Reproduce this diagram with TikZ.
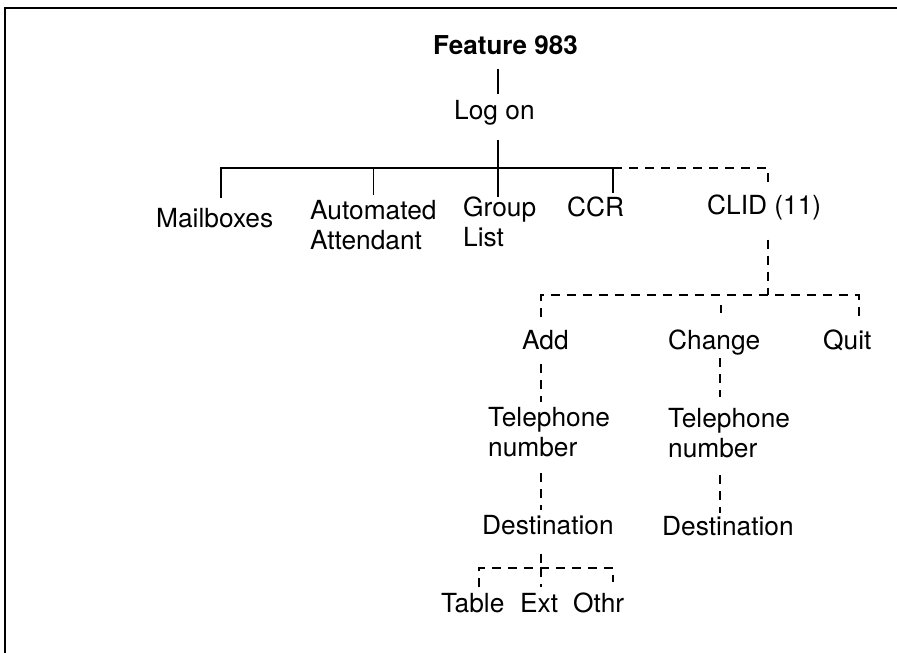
\documentclass[tikz,border=0pt]{standalone}
\usepackage{fontspec}
\setmainfont{TeX Gyre Heros}
\begin{document}
\begin{tikzpicture}[x=1pt,y=-1pt,
  lbl/.style={anchor=north west,inner sep=0pt,align=left,font=\fontsize{26.3}{30}\selectfont},
  tree/.style={line width=1.2pt},
  dtree/.style={line width=1.1pt,dash pattern=on 9pt off 7pt}]
\useasboundingbox (0,0) rectangle (897,653);
\draw[line width=1.5pt](5,653)--(5,8)--(897,8);
\node[lbl,font=\fontsize{26}{30}\selectfont\bfseries] (feat) at (433,35) {Feature 983};
\node[lbl] (logon) at (454,100) {Log on};
\node[lbl] (mail) at (156,208) {Mailboxes};
\node[lbl] (auto) at (310,200) {Automated\\Attendant};
\node[lbl] (group) at (463,197) {Group\\List};
\node[lbl] (ccr) at (567,197) {CCR};
\node[lbl] (clid) at (707,195) {CLID (11)};
\node[lbl] (add) at (522,330) {Add};
\node[lbl] (change) at (668,330) {Change};
\node[lbl] (quit) at (823,330) {Quit};
\node[lbl] (telA) at (488,407) {Telephone\\number};
\node[lbl] (telC) at (668,408) {Telephone\\number};
\node[lbl] (destA) at (482,515) {Destination};
\node[lbl] (destC) at (662,516) {Destination};
\node[lbl] (table) at (441,593) {Table};
\node[lbl] (ext) at (520,593) {Ext};
\node[lbl] (othr) at (573,593) {Othr};
\coordinate (J1) at (498,168);
\coordinate (bL) at (221,168);
\coordinate (bC) at (613,168);
\coordinate (bR) at (768,168);
\coordinate (J2) at (768,295);
\coordinate (cL) at (541,295);
\coordinate (cM) at (721,295);
\coordinate (cR) at (859,295);
\coordinate (J3) at (541,568);
\coordinate (dL) at (479,568);
\coordinate (dR) at (613,568);
\coordinate (cX) at (720,295);
\draw[tree,shorten <=14pt,shorten >=6pt](feat.south-|J1)--(logon.north-|J1);
\draw[tree,shorten <=15pt](logon.south-|J1)--(J1);
\draw[tree,shorten <=10pt,shorten >=4pt](mail.north-|bL)--(bL)--(bC)--(ccr.north-|bC);
\draw[tree,shorten >=5pt](J1-|auto.north)--(auto.north);
\draw[tree](J1)--(group.north-|J1);
\draw[dtree,shorten >=12pt](bC)--(bR)--(clid.north-|bR);
\draw[dtree,shorten <=19pt](clid.south-|J2)--(J2);
\draw[dtree,shorten <=13pt,shorten >=12pt](add.north-|cL)--(cL)--(cR)--(quit.north-|cR);
\draw[dtree,shorten <=10pt,shorten >=17pt](cM)--(change.north-|cM);
\draw[dtree,shorten <=14pt,shorten >=5pt](add.south-|cL)--(telA.north-|cL);
\draw[dtree,shorten <=16pt,shorten >=5pt](telA.south-|cL)--(destA.north-|cL);
\draw[dtree,shorten <=19pt](destA.south-|J3)--(J3);
\draw[dtree,shorten <=6pt,shorten >=11pt](table.north-|dL)--(dL)--(dR)--(othr.north-|dR);
\draw[dtree,shorten >=6pt](J3)--(ext.north-|J3);
\draw[dtree,shorten <=2pt,shorten >=11pt](change.south-|cX)--(telC.north-|cX);
\draw[dtree,shorten <=17pt,shorten >=3pt](telC.south-|cX)--(destC.north-|cX);
\end{tikzpicture}
\end{document}
